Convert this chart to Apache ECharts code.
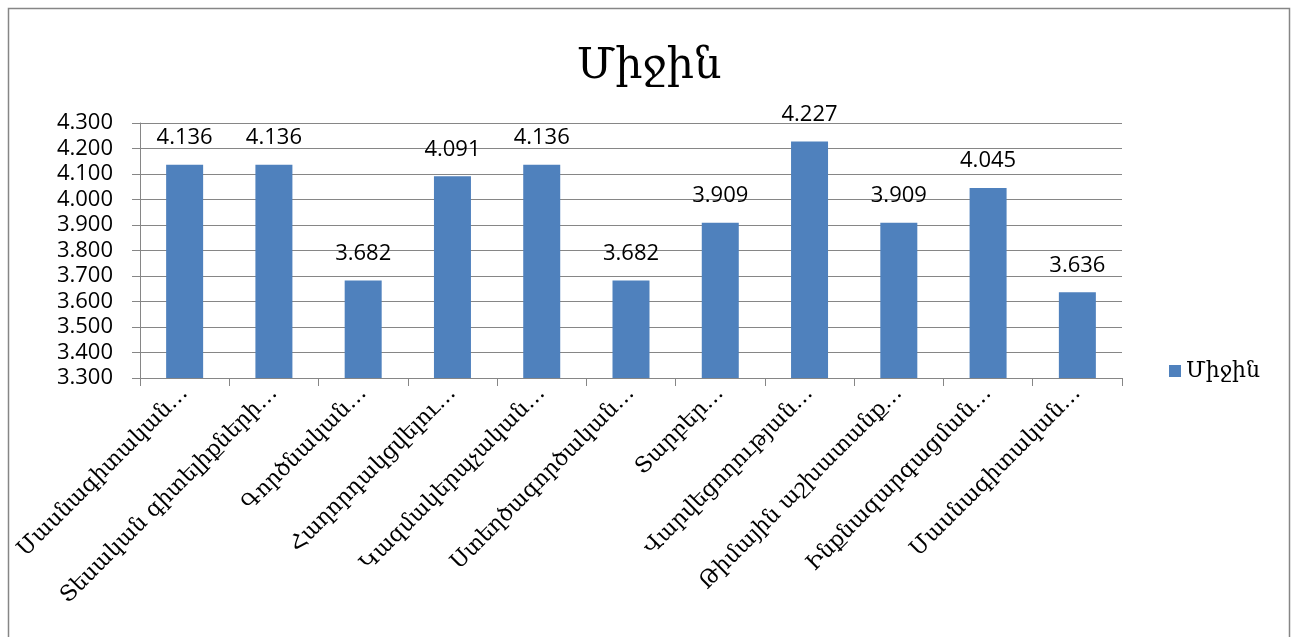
<!DOCTYPE html>
<html>
<head>
<meta charset="utf-8">
<script src="https://cdn.jsdelivr.net/npm/echarts@6/dist/echarts.min.js"></script>
<style>
  html, body { margin: 0; padding: 0; background: #fff; }
  #chart { width: 1298px; height: 637px; }
</style>
</head>
<body>
<div id="chart"></div>
<script>
// categories (long ones are cut with an ellipsis, as in the source)
var categories = [
  "Մասնագիտական…",
  "Տեսական գիտելիքների…",
  "Գործնական…",
  "Հաղորդակցվելու…",
  "Կազմակերպչական…",
  "Ստեղծագործական…",
  "Տարբեր…",
  "Վարվեցողության…",
  "Թիմային աշխատանք…",
  "Ինքնազարգացման…",
  "Մասնագիտական…"
];
var values = [4.136, 4.136, 3.682, 4.091, 4.136, 3.682, 3.909, 4.227, 3.909, 4.045, 3.636];
var seriesName = "Միջին";

var serif = "'DejaVu Serif', 'DejaVu Sans', serif";
var numFont = "'Open Sans', 'Noto Sans', sans-serif";

var chart = echarts.init(document.getElementById('chart'));
chart.setOption({
  animation: false,
  title: {
    text: "Միջին",
    left: 'center',
    top: 40,
    textStyle: { fontFamily: serif, fontSize: 43, fontWeight: 'normal', color: '#000' }
  },
  legend: {
    data: [seriesName],
    left: 1164,
    top: 355,
    icon: 'rect',
    itemWidth: 12,
    itemHeight: 12,
    itemGap: 6,
    textStyle: { fontFamily: serif, fontSize: 22, color: '#000' }
  },
  grid: { left: 140, right: 176, top: 123, bottom: 259 },
  xAxis: {
    type: 'category',
    data: categories,
    axisLine: { lineStyle: { color: '#868686' } },
    axisTick: { show: true, length: 8, lineStyle: { color: '#868686' } },
    axisLabel: {
      interval: 0, rotate: 45, margin: 12,
      fontFamily: serif, fontSize: 22, color: '#000'
    }
  },
  yAxis: {
    type: 'value',
    min: 3.3, max: 4.3, interval: 0.1,
    axisLine: { show: true, lineStyle: { color: '#868686' } },
    axisTick: { show: true, length: 8, lineStyle: { color: '#868686' } },
    splitLine: { lineStyle: { color: '#868686' } },
    axisLabel: {
      margin: 27,
      fontFamily: numFont, fontSize: 22, color: '#000',
      formatter: function (v) { return v.toFixed(3); }
    }
  },
  series: [{
    name: seriesName,
    type: 'bar',
    data: values,
    barWidth: 37,
    itemStyle: { color: '#4F81BD' },
    label: {
      show: true, position: 'top', distance: 16,
      fontFamily: numFont, fontSize: 22, color: '#000',
      formatter: function (p) { return p.value.toFixed(3); }
    }
  }],
  graphic: [{
    type: 'rect',
    shape: { x: 8.5, y: 8.5, width: 1281, height: 640 },
    style: { fill: 'none', stroke: '#868686', lineWidth: 1.5 },
    silent: true
  }]
});
</script>
</body>
</html>
